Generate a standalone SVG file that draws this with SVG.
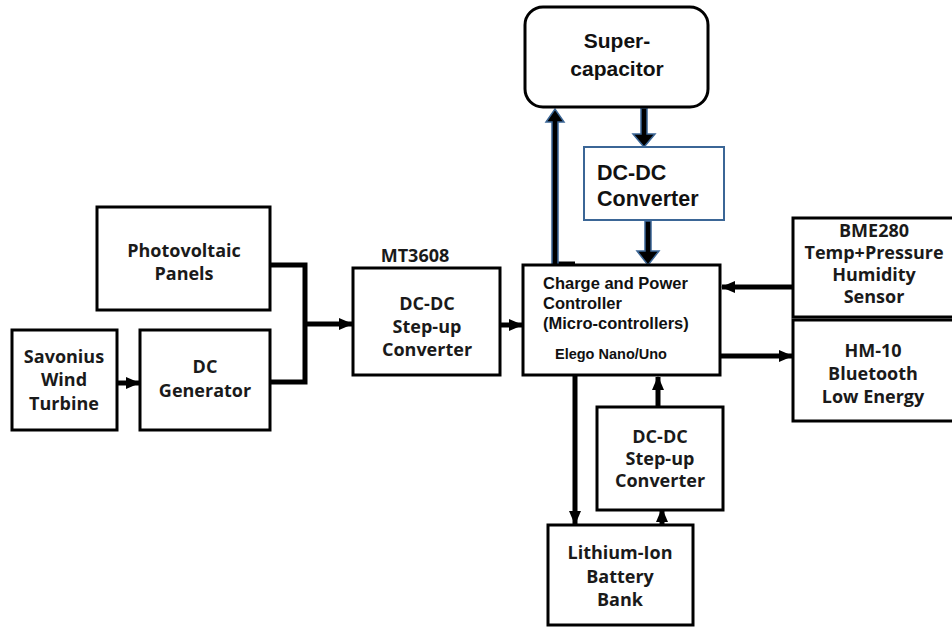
<svg xmlns="http://www.w3.org/2000/svg" width="952" height="628" viewBox="0 0 952 628">
<style>
.box{fill:#fff;stroke:#000;stroke-width:3}
.t{font-family:"Open Sans",sans-serif;font-weight:bold;font-size:18px;fill:#1a1a1a;text-anchor:middle}
.a{font-family:"Liberation Sans",Arial,sans-serif;font-weight:bold;fill:#111}
.c{fill:none;stroke:#000;stroke-width:5}
</style>
<defs>
<marker id="ah" markerWidth="14" markerHeight="12" refX="13" refY="6" orient="auto" markerUnits="userSpaceOnUse">
<path d="M0,0 L14,6 L0,12 z" fill="#000"/>
</marker>
</defs>
<rect width="952" height="628" fill="#fff"/>
<g id="connectors">
<polyline class="c" points="270,265 305,265 305,382 270,382"/>
<line class="c" x1="305" y1="324" x2="352" y2="324" marker-end="url(#ah)"/>
<line class="c" x1="117" y1="383" x2="139" y2="383" marker-end="url(#ah)"/>
<line class="c" x1="500" y1="325" x2="522" y2="325" marker-end="url(#ah)"/>
<line class="c" x1="793" y1="287" x2="722" y2="287" marker-end="url(#ah)"/>
<line class="c" x1="720" y1="356" x2="792" y2="356" marker-end="url(#ah)"/>
<line class="c" x1="575" y1="376" x2="575" y2="524" marker-end="url(#ah)"/>
<line class="c" x1="662" y1="525" x2="662" y2="509" marker-end="url(#ah)"/>
<line class="c" x1="658" y1="407" x2="658" y2="377" marker-end="url(#ah)"/>
<line x1="555" y1="263" x2="575" y2="263" stroke="#000" stroke-width="3"/>
<path d="M552,265 L552,122 L546,122 L555,109 L564,122 L558,122 L558,265 z" fill="#000" stroke="#3b6696" stroke-width="1.5"/>
<path d="M641,108 L641,134 L633,134 L644,147 L655,134 L647,134 L647,108 z" fill="#000" stroke="#3b6696" stroke-width="1.5"/>
<path d="M645,221 L645,251 L637,251 L648,265 L659,251 L651,251 L651,221 z" fill="#000" stroke="#3b6696" stroke-width="1.5"/>
</g>
<g id="supercapacitor">
<rect x="525" y="7" width="183" height="100" rx="18" class="box"/>
<text class="a" x="617" y="48" font-size="21" text-anchor="middle">Super-</text>
<text class="a" x="617" y="76" font-size="21" text-anchor="middle">capacitor</text>
</g>
<g id="dcdc-converter">
<rect x="584" y="147" width="140" height="73" fill="#fff" stroke="#3b6696" stroke-width="2"/>
<text class="a" x="597" y="180" font-size="21.5">DC-DC</text>
<text class="a" x="597" y="206" font-size="21.5">Converter</text>
</g>
<g id="photovoltaic">
<rect x="97" y="207" width="173" height="103" class="box"/>
<text class="t" x="184" y="257">Photovoltaic</text>
<text class="t" x="184" y="280">Panels</text>
</g>
<g id="savonius">
<rect x="12" y="330" width="105" height="100" class="box"/>
<text class="t" x="64" y="363">Savonius</text>
<text class="t" x="64" y="386">Wind</text>
<text class="t" x="64" y="410">Turbine</text>
</g>
<g id="dc-generator">
<rect x="140" y="330" width="130" height="100" class="box"/>
<text class="t" x="205" y="373">DC</text>
<text class="t" x="205" y="397">Generator</text>
</g>
<g id="mt3608">
<text class="t" x="415" y="262" font-size="19">MT3608</text>
<rect x="353" y="268" width="147" height="107" class="box"/>
<text class="t" x="427" y="310">DC-DC</text>
<text class="t" x="427" y="333">Step-up</text>
<text class="t" x="427" y="356">Converter</text>
</g>
<g id="controller">
<rect x="523" y="265" width="197" height="110" class="box"/>
<text class="a" x="543" y="289" font-size="16.5">Charge and Power</text>
<text class="a" x="543" y="309" font-size="16.5">Controller</text>
<text class="a" x="543" y="329" font-size="16.5">(Micro-controllers)</text>
<text class="a" x="555" y="359" font-size="14.5">Elego Nano/Uno</text>
</g>
<g id="bme280">
<rect x="793" y="218" width="170" height="99" class="box"/>
<text class="t" x="874" y="237">BME280</text>
<text class="t" x="874" y="259">Temp+Pressure</text>
<text class="t" x="874" y="281">Humidity</text>
<text class="t" x="874" y="303">Sensor</text>
</g>
<g id="hm10">
<rect x="793" y="320" width="170" height="101" class="box"/>
<text class="t" x="873" y="357">HM-10</text>
<text class="t" x="873" y="380">Bluetooth</text>
<text class="t" x="873" y="403">Low Energy</text>
</g>
<g id="stepup2">
<rect x="597" y="407" width="126" height="103" class="box"/>
<text class="t" x="660" y="443">DC-DC</text>
<text class="t" x="660" y="465">Step-up</text>
<text class="t" x="660" y="487">Converter</text>
</g>
<g id="lithium">
<rect x="548" y="525" width="145" height="100" class="box"/>
<text class="t" x="620" y="559">Lithium-Ion</text>
<text class="t" x="620" y="583">Battery</text>
<text class="t" x="620" y="606">Bank</text>
</g>
</svg>
